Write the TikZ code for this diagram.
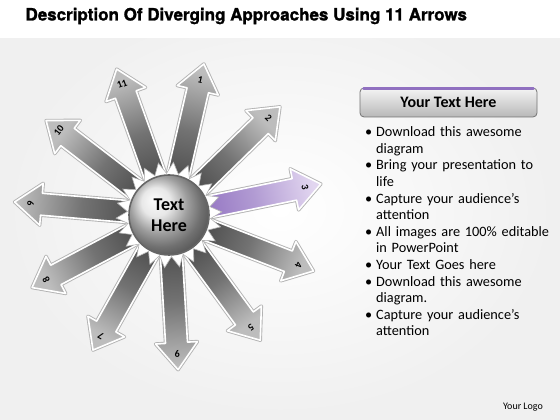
\documentclass[tikz,border=0pt]{standalone}
\usepackage{fontspec}
\setmainfont{Carlito}
\newfontfamily\headfont[BoldFeatures={FakeBold=1.3}]{TeX Gyre Heros}
\usetikzlibrary{positioning,shapes.geometric}
\definecolor{lilac}{HTML}{9070C0}
\definecolor{lilaclight}{HTML}{E2D6F0}
\tikzset{
    spoke/.style={
           draw=white,
           line width=1.6pt,
           line join=round,
           },
    spokeedge/.style={
           draw=black!30,
           line width=3.4pt,
           line join=round,
           },
    numlabel/.style={
           font=\bfseries\fontsize{10}{10}\selectfont,
           inner sep=0pt,
           },
    hubstar/.style={
           star,
           star points=22,
           star point ratio=1.27,
           minimum size=106pt,
           fill=white,
           draw=black!30,
           line width=0.6pt,
           },
    hub/.style={
           circle,
           minimum size=80pt,
           shading=ball,
           ball color=black!12,
           draw=black!60,
           line width=1.6pt,
           align=center,
           font=\bfseries\fontsize{18}{21}\selectfont,
           },
    headbox/.style={
           rectangle,
           rounded corners=4pt,
           minimum width=177pt,
           minimum height=29pt,
           top color=black!4,
           bottom color=black!28,
           draw=black!55,
           line width=0.8pt,
           font=\bfseries\fontsize{16}{16}\selectfont,
           },
    bulletbox/.style={
           text width=190pt,
           inner sep=0pt,
           align=left,
           font=\fontsize{14.3}{16.6}\selectfont,
           },
}

\begin{document}
\begin{tikzpicture}[x=1pt,y=1pt]
 \useasboundingbox (0,0) rectangle (560,420);
 \shade[inner color=white, outer color=black!6] (0,0) rectangle (560,420);
 \fill[white] (0,382) rectangle (560,420);

 \node[anchor=west, font=\headfont\bfseries\fontsize{17}{17}\selectfont] (TITLE) at (22,404)
 {Description Of Diverging Approaches Using 11 Arrows};

 % spokes
 \coordinate (C) at (169,205);
 \foreach \n in {1,...,11}{
   \pgfmathsetmacro\ang{77-(\n-1)*32.727}
   \pgfmathsetmacro\shang{\ang-90}
   \pgfmathsetmacro\rot{\n==6 ? \ang+90 : \ang-90}
   \ifnum\n=3
     \colorlet{spkA}{lilac}\colorlet{spkM}{lilac!70!white}\colorlet{spkB}{lilaclight}
   \else
     \colorlet{spkA}{black!72}\colorlet{spkM}{black!55}\colorlet{spkB}{black!26}
   \fi
   \begin{scope}[shift={(C)}, rotate=\ang]
     \draw[spokeedge] (20,-11) -- (128,-11) -- (128,-21) -- (155,0)
       -- (128,21) -- (128,11) -- (20,11) -- cycle;
     \draw[spoke, top color=spkB, bottom color=spkA, middle color=spkM, shading angle=\shang]
       (20,-11) -- (128,-11) -- (128,-21) -- (155,0)
       -- (128,21) -- (128,11) -- (20,11) -- cycle;
     \node[numlabel, rotate=\rot] (N\n) at (139,0) {\n};
   \end{scope}
 }

 \node[hubstar, rotate=-4.8] (STAR) at (C) {};
 \node[hub] (HUB) at (C) {Text\\Here};

 % right panel
 \node[headbox] (HEADER) at (448.5,317.5) {Your Text Here};
 \draw[lilac, line width=3pt, line cap=round]
   ([xshift=4pt,yshift=-1.2pt]HEADER.north west) -- ([xshift=-4pt,yshift=-1.2pt]HEADER.north east);

 \node[bulletbox, anchor=north west] (LIST) at (362,300)
 {\begin{list}{\textbullet}{\setlength\leftmargin{14pt}\setlength\labelwidth{10pt}%
   \setlength\labelsep{4pt}\setlength\itemsep{0pt}\setlength\parsep{0pt}%
   \setlength\topsep{0pt}\setlength\partopsep{0pt}}
   \item Download this awesome\\diagram
   \item Bring your presentation to\\life
   \item Capture your audience’s\\attention
   \item All images are 100\% editable\\in PowerPoint
   \item Your Text Goes here
   \item Download this awesome\\diagram.
   \item Capture your audience’s\\attention
  \end{list}};

 \node[font=\fontsize{10}{10}\selectfont] (LOGO) at (523,13) {Your Logo};
\end{tikzpicture}
\end{document}
